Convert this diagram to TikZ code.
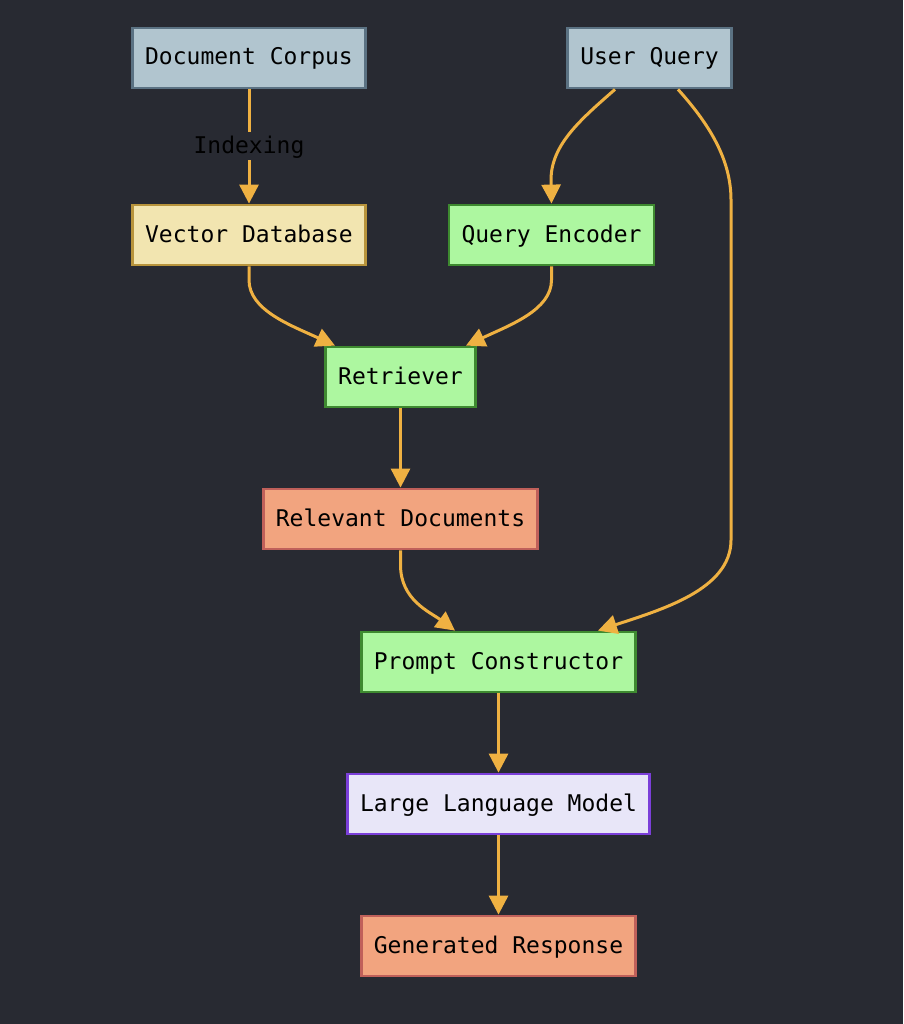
\documentclass[tikz,border=0pt]{standalone}
\usepackage{fontspec}
\newfontfamily\dmono{DejaVu Sans Mono}
\usetikzlibrary{arrows.meta}
\definecolor{bgc}{HTML}{282A32}
\definecolor{edgec}{HTML}{EFB142}
\definecolor{greyf}{HTML}{B1C5CF}
\definecolor{greyd}{HTML}{5B7283}
\definecolor{yelf}{HTML}{F2E5B0}
\definecolor{yeld}{HTML}{B8943C}
\definecolor{grnf}{HTML}{ADF7A0}
\definecolor{grnd}{HTML}{3E8A30}
\definecolor{salf}{HTML}{F2A47F}
\definecolor{sald}{HTML}{C0605A}
\definecolor{purf}{HTML}{E8E6F8}
\definecolor{purd}{HTML}{7B3FD9}
\tikzset{
  box/.style={draw, line width=2.8pt, font=\dmono\fontsize{23}{27}\selectfont, text=black,
    minimum height=60pt, inner xsep=12.5pt, inner ysep=0pt, text height=17pt, text depth=3pt},
  greybox/.style={box, fill=greyf, draw=greyd},
  yelbox/.style={box, fill=yelf, draw=yeld},
  grnbox/.style={box, fill=grnf, draw=grnd},
  salbox/.style={box, fill=salf, draw=sald},
  purbox/.style={box, fill=purf, draw=purd},
  conn/.style={draw=edgec, line width=3pt, -{Triangle[length=19pt,width=19pt]}},
  elabel/.style={fill=bgc, font=\dmono\fontsize{23}{27}\selectfont, text=black, inner xsep=2pt, inner ysep=4pt, text height=17pt, text depth=3pt}
}
\begin{document}
\begin{tikzpicture}[x=1pt,y=-1pt]
\fill[bgc] (0,0) rectangle (903,1024);
\useasboundingbox (0,0) rectangle (903,1024);

\node[greybox] (dc) at (249,58) {Document Corpus};
\node[greybox] (uq) at (649.5,58) {User Query};
\node[yelbox] (vd) at (249,235) {Vector Database};
\node[grnbox] (qe) at (551.5,235) {Query Encoder};
\node[grnbox] (rt) at (400.5,377) {Retriever};
\node[salbox] (rd) at (400.5,519) {Relevant Documents};
\node[grnbox] (pc) at (498.5,662) {Prompt Constructor};
\node[purbox] (llm) at (498.5,804) {Large Language Model};
\node[salbox] (gr) at (498.5,946) {Generated Response};

\draw[conn] (dc) -- node[elabel] {Indexing} (vd);

\draw[conn] ([xshift=-34.5pt]uq.south) .. controls (580,120) and (551,145) .. (551,180) -- (qe.north);

\draw[conn] ([xshift=28.5pt]uq.south) .. controls (710,125) and (731,160) .. (731,200)
  -- (731,540) .. controls (731,590) and (660,610) .. ([xshift=99.5pt]pc.north);

\draw[conn] (vd.south) -- (249,280) .. controls (249,310) and (290,325) .. ([xshift=-65.5pt]rt.north);
\draw[conn] (qe.south) -- (551.5,280) .. controls (551.5,310) and (510,325) .. ([xshift=65.5pt]rt.north);

\draw[conn] (rt) -- (rd);
\draw[conn] (rd.south) -- (400.5,565) .. controls (400.5,600) and (430,612) .. ([xshift=-43.5pt]pc.north);

\draw[conn] (pc) -- (llm);
\draw[conn] (llm) -- (gr);
\end{tikzpicture}
\end{document}
